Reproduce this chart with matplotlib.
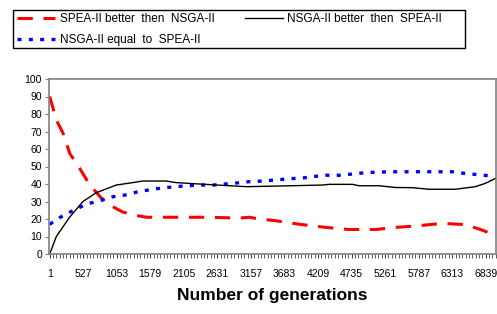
import numpy as np
from matplotlib import pyplot as plt
from matplotlib.patches import Rectangle

plt.rcParams['font.family'] = ['Liberation Sans', 'DejaVu Sans']

# values (generation, percent)
spea_x = [1, 105, 210, 315, 470, 630, 810, 990, 1145, 1360, 1520, 2000, 2500, 2975,
          3130, 3287, 3548, 3913, 4330, 4695, 5113, 5426, 5739, 6151, 6522, 6780, 6937]
spea_y = [90, 76.6, 69, 57.5, 49, 39.4, 32, 27, 24, 22, 21, 21, 21, 20.5,
          21, 20, 19, 17, 15.2, 14, 14, 15.2, 16, 17.5, 16.8, 13.7, 11.4]

nsga_x = [1, 105, 313, 522, 730, 1044, 1305, 1461, 1826, 1983, 2348, 2870, 3078,
          3131, 3653, 4279, 4383, 4748, 4853, 5166, 5427, 5687, 5948, 6365, 6678, 6835, 6991]
nsga_y = [0, 10, 21, 30, 35, 39.4, 40.8, 41.7, 41.7, 40.8, 40, 38.9, 38.5,
          38.5, 38.9, 39.4, 39.8, 39.8, 39, 39, 38, 37.9, 37, 37, 38.5, 40.4, 43.2]

equal_x = [1, 168, 376, 585, 794, 1002, 1185, 1368, 1629, 1838, 2151, 2360, 2568, 2881, 3116,
           3340, 3548, 3757, 3966, 4122, 4331, 4540, 4748, 4957, 5322, 5739, 6104, 6313, 6522, 6783, 6913]
equal_y = [17, 21, 25, 28.6, 30.5, 32.8, 33.7, 35.4, 37.1, 38, 39, 39.4, 39.4, 40.4, 41.3,
           41.7, 42.3, 43, 43.4, 44.2, 45, 45, 45.7, 46.5, 47, 47, 47, 47, 46, 45.1, 44.6]

tick_labels = [1, 527, 1053, 1579, 2105, 2631, 3157, 3683, 4209, 4735, 5261, 5787, 6313, 6839]

fig = plt.figure(figsize=(4.97, 3.14), dpi=100)
ax = fig.add_axes([49 / 497, 1 - 254 / 314, 447 / 497, 175 / 314])

l1, = ax.plot(spea_x, spea_y, color='red', lw=2.2, dashes=(5, 3.5), label='SPEA-II better  then  NSGA-II')
l3, = ax.plot(equal_x, equal_y, color='blue', lw=2.4, dashes=(1.2, 2.2), label='NSGA-II equal  to  SPEA-II')
l2, = ax.plot(nsga_x, nsga_y, color='black', lw=1, label='NSGA-II better  then  SPEA-II')

ax.set_xlim(-10, 7000)
ax.set_ylim(0, 100)
ax.set_yticks(range(0, 101, 10))
ax.set_xticks(tick_labels)
ax.set_xticklabels([str(t) for t in tick_labels])
ax.set_xticks(np.arange(1, 7000, 52.6), minor=True)

for s in ax.spines.values():
    s.set_color('#808080')
    s.set_linewidth(1.2)
ax.tick_params(axis='y', colors='#808080', labelcolor='black', labelsize=7.5, length=3, pad=2)
ax.tick_params(axis='x', which='both', colors='#404040', labelcolor='black', labelsize=7.5,
               length=3, pad=8)

ax.set_xlabel('Number of generations', fontsize=12.5, fontweight='bold', labelpad=6)

# legend box above the plot
fig.add_artist(Rectangle((13 / 497, 1 - 48 / 314), 452 / 497, 38 / 314,
                         transform=fig.transFigure, fill=False, edgecolor='black', lw=1))
leg = fig.legend(handles=[l1, l3, l2], ncol=2, loc='upper left',
                 bbox_to_anchor=(17 / 497, 1 - 13 / 314),
                 fontsize=8.5, frameon=False,
                 handlelength=3.2, handletextpad=0.4, columnspacing=2.6,
                 borderaxespad=0, borderpad=0, labelspacing=0.75)

fig.savefig('out.png', dpi=100)
